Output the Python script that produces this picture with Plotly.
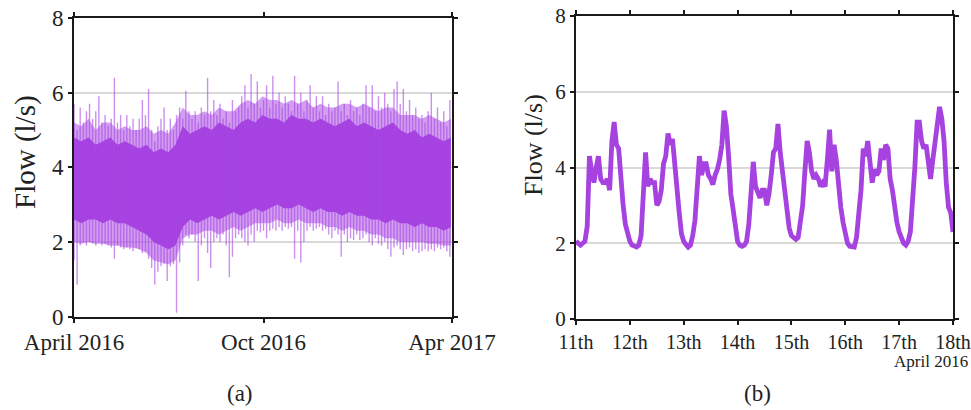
import plotly.graph_objects as go
import pandas as pd

# ---------------- Panel (a): one year of flow, April 2016 - April 2017 ----------------
year_start = "2016-04-01"
# spike extremes, read every 3 days
spike_hi = [5.7, 5.0, 5.6, 5.2, 5.5, 5.7, 5.3, 5.5, 5.9, 5.2, 5.4, 5.1, 5.3, 6.4, 5.2, 5.4,
            5.0, 5.4, 5.1, 5.3, 5.0, 5.3, 5.8, 5.4, 6.1, 5.0, 4.7, 5.1, 5.3, 5.6, 5.0, 5.3,
            5.0, 5.4, 5.6, 5.3, 6.05, 5.5, 5.3, 5.5, 5.2, 5.6, 5.4, 6.4, 5.5, 5.8, 5.4, 5.7,
            5.3, 5.5, 5.2, 5.8, 5.5, 5.6, 5.9, 6.2, 5.6, 6.5, 5.7, 6.3, 5.6, 5.8, 6.2, 5.6,
            6.45, 5.7, 6.0, 5.6, 5.9, 5.7, 5.5, 6.45, 5.7, 6.0, 5.5, 5.8, 6.2, 5.6, 5.9, 5.5,
            5.9, 5.4, 5.7, 5.5, 5.6, 6.3, 5.5, 5.7, 5.4, 5.8, 5.5, 5.6, 5.4, 5.7, 6.2, 5.6,
            6.2, 5.5, 5.9, 5.6, 6.0, 5.7, 5.5, 6.1, 6.3, 5.7, 6.1, 5.5, 5.8, 5.4, 5.6, 5.3,
            5.4, 5.2, 5.5, 6.0, 5.3, 5.6, 5.2, 5.5, 5.1, 5.8]
spike_lo = [1.5, 0.85, 1.9, 2.0, 1.9, 2.0, 1.95, 1.9, 2.0, 1.9, 1.95, 1.9, 1.85, 1.55, 1.9, 1.85,
            1.8, 1.85, 1.8, 1.75, 1.85, 1.8, 1.7, 1.75, 1.55, 1.3, 0.85, 1.2, 1.35, 1.4, 0.95, 1.35,
            1.4, 0.1, 1.45, 1.9, 2.2, 2.1, 2.2, 2.0, 0.95, 1.9, 2.1, 1.7, 1.3, 2.0, 2.1, 2.0,
            2.2, 1.9, 1.05, 1.6, 2.1, 2.2, 2.1, 2.0, 1.9, 2.2, 2.0, 2.3, 2.25, 2.3, 2.1, 2.3,
            2.35, 2.3, 2.4, 2.3, 2.4, 2.35, 2.4, 1.55, 2.3, 1.45, 2.0, 2.3, 2.4, 2.3, 2.35, 2.4,
            2.3, 2.35, 2.2, 2.1, 2.3, 2.2, 1.6, 2.2, 2.0, 2.1, 2.05, 2.2, 2.05, 2.1, 2.2, 2.0,
            1.9, 2.1, 1.95, 1.9, 2.0, 1.8, 1.6, 1.85, 1.9, 1.8, 1.65, 1.8, 1.85, 1.75, 1.8, 1.7,
            1.75, 1.8, 1.75, 1.8, 1.75, 1.85, 1.8, 1.85, 1.75, 1.6]
# dense band limits, read weekly
mid_hi = [5.2, 5.1, 5.3, 5.0, 5.2, 5.2, 5.0, 5.1, 5.0, 5.0,
          5.1, 4.9, 5.0, 4.9, 5.2, 5.6, 5.4, 5.4, 5.5, 5.4,
          5.6, 5.5, 5.5, 5.7, 5.8, 5.7, 5.9, 5.8, 5.8, 5.7,
          5.8, 5.7, 5.8, 5.6, 5.7, 5.6, 5.6, 5.7, 5.7, 5.6,
          5.7, 5.6, 5.5, 5.6, 5.6, 5.4, 5.4, 5.4, 5.3, 5.4,
          5.3, 5.2, 5.3]
mid_lo = [2.0, 1.95, 2.0, 1.95, 1.95, 1.9, 1.9, 1.85, 1.85, 1.8,
          1.7, 1.5, 1.45, 1.4, 1.5, 2.1, 2.2, 2.2, 2.3, 2.3,
          2.2, 2.3, 2.4, 2.3, 2.4, 2.5, 2.5, 2.5, 2.6, 2.5,
          2.5, 2.6, 2.5, 2.5, 2.5, 2.4, 2.4, 2.3, 2.4, 2.3,
          2.3, 2.2, 2.2, 2.1, 2.1, 2.0, 2.0, 2.0, 2.0, 1.95,
          1.95, 1.9, 1.9]
core_hi = [4.8, 4.7, 4.8, 4.6, 4.7, 4.8, 4.6, 4.7, 4.6, 4.5,
           4.6, 4.4, 4.5, 4.4, 4.6, 5.1, 4.9, 5.0, 5.1, 5.0,
           5.2, 5.1, 5.0, 5.2, 5.3, 5.2, 5.4, 5.3, 5.3, 5.2,
           5.4, 5.3, 5.3, 5.2, 5.3, 5.2, 5.1, 5.2, 5.3, 5.1,
           5.2, 5.1, 5.0, 5.1, 5.2, 5.0, 4.9, 5.0, 4.8, 4.9,
           4.8, 4.7, 4.8]
core_lo = [2.6, 2.5, 2.6, 2.6, 2.5, 2.6, 2.5, 2.5, 2.4, 2.3,
           2.2, 2.0, 1.9, 1.8, 1.9, 2.4, 2.6, 2.5, 2.6, 2.7,
           2.6, 2.7, 2.8, 2.7, 2.8, 2.9, 2.8, 2.9, 3.0, 2.9,
           2.9, 3.0, 2.9, 2.8, 2.9, 2.8, 2.8, 2.7, 2.8, 2.7,
           2.7, 2.6, 2.6, 2.5, 2.6, 2.5, 2.5, 2.4, 2.5, 2.4,
           2.4, 2.3, 2.4]
a_ticks = ["2016-04-01", "2016-10-01", "2017-04-01"]
a_ticktext = ["April 2016", "Oct 2016", "Apr 2017"]

# ---------------- Panel (b): one week, 11th - 18th April 2016 (hourly) ----------------
week_start = "2016-04-11"
week_flow = [2.05, 2.0, 1.95, 2.0, 2.05, 2.45, 4.3, 3.9, 3.6, 4.0, 4.3, 3.7, 3.6, 3.6, 3.7, 3.4,
             4.7, 5.2, 4.6, 4.5, 3.5, 3.0, 2.5, 2.25,
             2.05, 1.95, 1.92, 1.9, 1.95, 2.2, 3.3, 4.4, 3.5, 3.7, 3.6, 3.6, 3.0, 3.1, 3.4, 4.1,
             4.3, 4.9, 4.6, 4.75, 4.1, 3.3, 2.8, 2.25,
             2.05, 1.97, 1.9, 1.95, 2.2, 2.6, 3.4, 4.3, 3.8, 4.1, 4.1, 3.8, 3.7, 3.55, 3.8, 3.95,
             4.2, 4.6, 5.5, 5.1, 4.3, 3.3, 2.9, 2.4,
             2.05, 1.95, 1.92, 1.95, 2.05, 2.5, 3.3, 4.15, 3.5, 3.3, 3.2, 3.4, 3.4, 3.0, 3.3, 3.8,
             4.4, 4.5, 5.15, 4.4, 3.9, 3.3, 2.7, 2.4,
             2.2, 2.15, 2.1, 2.15, 2.5, 3.0, 3.9, 4.7, 4.4, 3.9, 3.7, 3.8, 3.7, 3.5, 3.6, 3.5,
             4.2, 5.0, 3.9, 4.6, 4.2, 3.35, 2.95, 2.55,
             2.2, 2.0, 1.92, 1.9, 1.9, 2.15, 2.7, 3.4, 4.5, 4.3, 4.7, 4.1, 3.6, 3.95, 3.8, 3.9,
             4.5, 4.2, 4.6, 4.5, 3.7, 3.4, 2.9, 2.55,
             2.3, 2.1, 2.0, 1.95, 2.05, 2.3, 3.0, 4.0, 5.2, 5.2, 4.7, 4.5, 4.6, 4.0, 3.7, 4.2,
             4.6, 5.0, 5.6, 5.3, 4.7, 3.6, 2.95, 2.8,
             2.3]
b_ticks = ["2016-04-%02d" % d for d in range(11, 19)]
b_ticktext = ["11th", "12th", "13th", "14th", "15th", "16th", "17th", "18th"]

y_ticks = [0, 2, 4, 6, 8]

# ---------------- build figure ----------------
spike_dates = pd.date_range(year_start, periods=len(spike_hi), freq="3D")
band_dates = pd.date_range(year_start, periods=len(mid_hi), freq="7D")
week_times = pd.date_range(week_start, periods=len(week_flow), freq="h")

PURPLE = "#a542e0"

fig = go.Figure()

bx = list(band_dates) + list(band_dates[::-1])
fig.add_trace(go.Scatter(x=bx, y=mid_hi + mid_lo[::-1], fill="toself", mode="lines",
                         line=dict(width=0), fillcolor="rgba(172,78,228,0.55)",
                         hoverinfo="skip", xaxis="x", yaxis="y"))
fig.add_trace(go.Scatter(x=bx, y=core_hi + core_lo[::-1], fill="toself", mode="lines",
                         line=dict(width=0), fillcolor=PURPLE,
                         hoverinfo="skip", xaxis="x", yaxis="y"))
sx, sy = [], []
for t, lo, hi in zip(spike_dates, spike_lo, spike_hi):
    sx += [t, t, None]
    sy += [lo, hi, None]
fig.add_trace(go.Scatter(x=sx, y=sy, mode="lines",
                         line=dict(width=1.4, color="rgba(168,70,228,0.6)"),
                         hoverinfo="skip", xaxis="x", yaxis="y"))

fig.add_trace(go.Scatter(x=week_times, y=week_flow, mode="lines",
                         line=dict(width=4.8, color=PURPLE),
                         xaxis="x2", yaxis="y2"))

FONT = "Liberation Serif"
TXT = "#222222"
axis_common = dict(showline=True, linecolor="#1a1a1a", linewidth=2, mirror="ticks",
                   ticks="outside", ticklen=4, tickwidth=2, tickcolor="#1a1a1a",
                   zeroline=False, automargin=False, ticklabeloverflow="allow")
yaxis_common = dict(axis_common, range=[0, 8], tickvals=y_ticks, showgrid=True,
                    gridcolor="#d9d9d9", gridwidth=1.5)

fig.update_layout(
    width=971, height=410, margin=dict(l=0, r=0, t=0, b=0, pad=0, autoexpand=False),
    autosize=False,
    paper_bgcolor="white", plot_bgcolor="white", showlegend=False,
    font=dict(family=FONT, color=TXT),
    xaxis=dict(axis_common, domain=[74 / 971, 452 / 971], type="date",
               range=[a_ticks[0], a_ticks[-1]], tickvals=a_ticks, ticktext=a_ticktext,
               showgrid=False, tickfont=dict(size=23, family=FONT, color=TXT)),
    yaxis=dict(yaxis_common, domain=[(410 - 316.5) / 410, (410 - 18) / 410],
               tickfont=dict(size=23, family=FONT, color=TXT)),
    xaxis2=dict(axis_common, domain=[576 / 971, 953 / 971], type="date",
                range=[b_ticks[0], b_ticks[-1]], tickvals=b_ticks, ticktext=b_ticktext,
                showgrid=False, anchor="y2", tickfont=dict(size=20, family=FONT, color=TXT)),
    yaxis2=dict(yaxis_common, domain=[(410 - 319) / 410, (410 - 16) / 410], anchor="x2",
                tickfont=dict(size=21, family=FONT, color=TXT)),
)

ann = dict(showarrow=False, xref="paper", yref="paper", font=dict(family=FONT, color=TXT))
fig.add_annotation(ann, text="Flow (l/s)", textangle=-90, x=25 / 971, y=(410 - 152) / 410,
                   xanchor="center", yanchor="middle", font=dict(size=29, family=FONT, color=TXT))
fig.add_annotation(ann, text="Flow (l/s)", textangle=-90, x=533 / 971, y=(410 - 145) / 410,
                   xanchor="center", yanchor="middle", font=dict(size=26, family=FONT, color=TXT))
fig.add_annotation(ann, text="April 2016", x=970 / 971, y=(410 - 361) / 410,
                   xanchor="right", yanchor="middle", font=dict(size=17, family=FONT, color=TXT))
fig.add_annotation(ann, text="(a)", x=240 / 971, y=(410 - 393) / 410,
                   xanchor="center", yanchor="middle", font=dict(size=23, family=FONT, color=TXT))
fig.add_annotation(ann, text="(b)", x=757 / 971, y=(410 - 393) / 410,
                   xanchor="center", yanchor="middle", font=dict(size=23, family=FONT, color=TXT))

fig.write_html("out.html")
